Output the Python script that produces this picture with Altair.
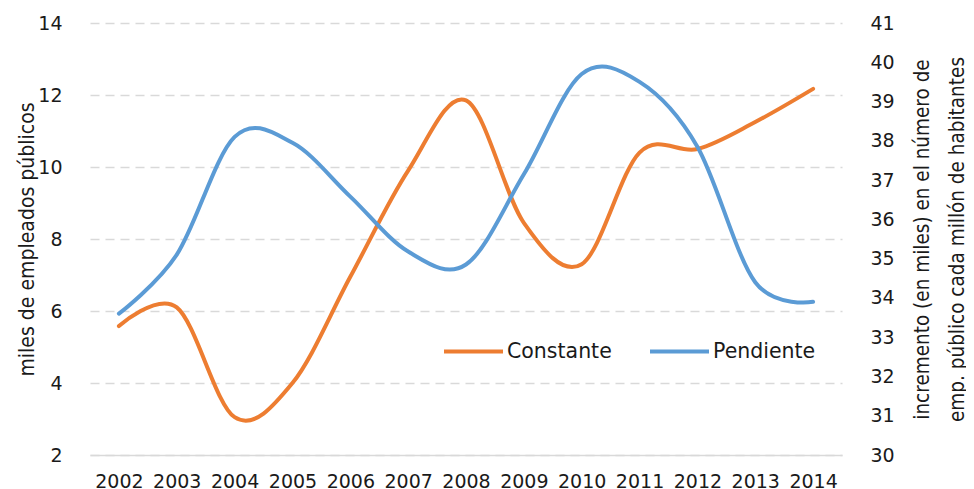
import altair as alt
import pandas as pd

years = [str(y) for y in range(2002, 2015)]
constante = [5.58, 6.1, 3.05, 4.0, 6.95, 9.9, 11.85, 8.45, 7.3, 10.4, 10.5, 11.25, 12.17]
pendiente = [33.6, 35.1, 38.1, 37.95, 36.58, 35.18, 34.85, 37.15, 39.7, 39.5, 37.85, 34.4, 33.9]
series = ["Constante", "Pendiente"]
colors = ["#ED7D31", "#5B9BD5"]
left_ticks = [2, 4, 6, 8, 10, 12, 14]
right_ticks = list(range(30, 42))
left_title = "miles de empleados públicos"
right_title = ["incremento  (en miles) en el número de", "emp. público cada millón  de habitantes"]

df = pd.DataFrame({
    "year": years * 2,
    "value": constante + pendiente,
    "serie": [series[0]] * len(years) + [series[1]] * len(years),
})

TICK_FONT = "DejaVu Sans"
TITLE_FONT = "DejaVu Sans Condensed, DejaVu Sans"

x_enc = alt.X(
    "year:O",
    scale=alt.Scale(padding=0.5),
    axis=alt.Axis(
        title=None, labelAngle=0, ticks=False, tickSize=0, labelPadding=17,
        domainColor="#d9d9d9", domainWidth=1.5, labelFont=TICK_FONT,
        labelFontSize=19, labelColor="#1a1a1a", grid=False,
    ),
)
color_enc = alt.Color(
    "serie:N",
    scale=alt.Scale(domain=series, range=colors),
    legend=alt.Legend(
        title=None, orient="none", direction="horizontal", legendX=352, legendY=297,
        symbolType="stroke", symbolSize=3481, symbolStrokeWidth=4,
        labelFont=TICK_FONT, labelFontSize=20.5, labelColor="#1a1a1a",
        labelOffset=2, columnPadding=30, padding=0,
    ),
)

base = alt.Chart(df)

left = base.transform_filter(alt.datum.serie == series[0]).mark_line(
    strokeWidth=4, interpolate="cardinal", strokeCap="round"
).encode(
    x=x_enc,
    y=alt.Y(
        "value:Q",
        scale=alt.Scale(domain=[2, 14], nice=False, zero=False),
        axis=alt.Axis(
            orient="left", values=left_ticks, title=left_title, ticks=False, tickSize=0,
            domain=False, labelPadding=28, labelFont=TICK_FONT, labelFontSize=19,
            labelColor="#1a1a1a", grid=True, gridColor="#d9d9d9", gridDash=[9, 6],
            gridWidth=1.5, titleFont=TITLE_FONT, titleFontSize=21,
            titleFontWeight="normal", titleColor="#1a1a1a", titleAngle=270,
            titleX=-57, titleY=216, titleAlign="center", titleBaseline="alphabetic",
        ),
    ),
    color=color_enc,
)

right = base.transform_filter(alt.datum.serie == series[1]).mark_line(
    strokeWidth=4, interpolate="cardinal", strokeCap="round"
).encode(
    x=x_enc,
    y=alt.Y(
        "value:Q",
        scale=alt.Scale(domain=[30, 41], nice=False, zero=False),
        axis=alt.Axis(
            orient="right", values=right_ticks, title=right_title, ticks=False, tickSize=0,
            domain=False, labelPadding=28, labelFont=TICK_FONT, labelFontSize=19,
            labelColor="#1a1a1a", grid=False, titleFont=TITLE_FONT, titleFontSize=20.5,
            titleFontWeight="normal", titleColor="#1a1a1a", titleAngle=270, titleX=86,
            titleY=216, titleAlign="center", titleBaseline="alphabetic", titleLineHeight=35,
        ),
    ),
    color=color_enc,
)

chart = alt.layer(left, right).resolve_scale(y="independent").properties(
    width=752, height=432,
    autosize=alt.AutoSizeParams(type="none"),
    padding={"left": 82, "top": 15, "right": 124, "bottom": 36},
).configure_view(stroke=None)

chart.save("out.html", embed_options={"renderer": "svg", "actions": False})
